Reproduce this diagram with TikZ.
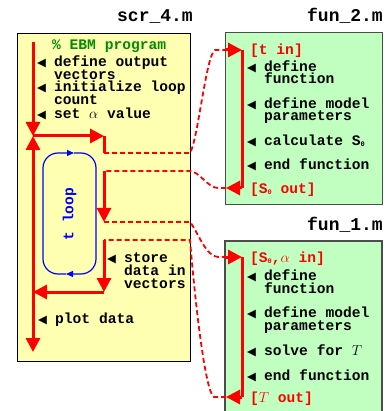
\documentclass[tikz,border=0pt]{standalone}
\usepackage{fontspec}
\setmonofont{Liberation Mono}
\newfontfamily\symfont{DejaVu Sans}
\usetikzlibrary{arrows.meta,positioning}

\definecolor{scrfill}{RGB}{255,255,178}
\definecolor{funfill}{RGB}{192,255,192}
\definecolor{ebmgreen}{RGB}{0,140,0}

% bullet triangle, hanging indent, small index
\newcommand{\tri}{\makebox[17pt][l]{\symfont\fontsize{11.5}{11.5}\selectfont ◀}}
\newcommand{\ind}{\hspace*{17pt}}
\newcommand{\idx}[1]{\raisebox{-1pt}{\fontsize{7}{7}\selectfont #1}}

\tikzset{
  code/.style={font=\ttfamily\bfseries\fontsize{14.6}{12.6}\selectfont,
    align=left, anchor=base west, inner sep=0pt},
  filename/.style={font=\ttfamily\bfseries\fontsize{18}{18}\selectfont,
    anchor=base east, inner sep=0pt},
  flow/.style={red, line width=3pt},
  flowarrow/.style={-{Triangle[length=14pt,width=14pt]}},
  link/.style={red, line width=1.8pt, dash pattern=on 5pt off 3pt},
  loopline/.style={blue, line width=1.2pt, rounded corners=15pt,
    -{Triangle[length=7pt,width=6pt]}}
}

\begin{document}
\begin{tikzpicture}[x=1pt,y=-1pt]
\useasboundingbox (0,0) rectangle (391,411);

% boxes
\node[draw, line width=1.2pt, fill=scrfill, anchor=north west,
  minimum width=173pt, minimum height=328pt] (scr) at (17,33) {};
\node[draw=black!70, line width=1.2pt, fill=funfill, anchor=north west,
  minimum width=157pt, minimum height=172pt] (fun2) at (225,32) {};
\fill[funfill] (225,241) rectangle (382,411);
\draw[black!70, line width=1.2pt] (225,411) |- (382,241) -- (382,411);

\node[filename] (scrname) at (193,22) {scr\_4.m};
\node[filename] (fun2name) at (383,22) {fun\_2.m};
\node[filename] (fun1name) at (383,230) {fun\_1.m};

% scr_4.m text (y = baseline of last line)
\node[code, ebmgreen] (ebm) at (52,50) {\% EBM program};
\foreach \yy/\txt [count=\i] in {80/{define output\\\ind vectors},
    105/{initialize loop\\\ind count}, 119/{set $\alpha$ value}}
  \node[code] (scritem\i) at (37,\yy) {\tri\txt};
\node[code] (store) at (107,288) {\tri store\\\ind data in\\\ind vectors};
\node[code] (plot) at (38,323) {\tri plot data};

% fun_2.m text
\node[code, red] (tin) at (250,55) {[t in]};
\foreach \yy/\txt [count=\i] in {84/{define\\\ind function},
    121/{define model\\\ind parameters}, 146/{calculate S\idx{0}},
    170/{end function}}
  \node[code] (funtwo\i) at (247,\yy) {\tri\txt};
\node[code, red] (sout) at (250,194) {[S\idx{0} out]};

% fun_1.m text
\node[code, red] (sin) at (250,262) {[S\idx{0},$\alpha$ in]};
\foreach \yy/\txt [count=\i] in {293/{define\\\ind function},
    330/{define model\\\ind parameters}, 355/{solve for $T$},
    380/{end function}}
  \node[code] (funone\i) at (247,\yy) {\tri\txt};
\node[code, red] (tout) at (250,402) {[$T$ out]};

% t loop
\draw[loopline] (66,274) -- (43,274) -- (43,153) -- (74,153);
\draw[loopline] (74,153) -- (96,153) -- (96,274) -- (66,274);
\node[code, anchor=center, rotate=90, blue] (tloop) at (69.5,214) {t loop};

% flow points
\coordinate (top) at (33,42);
\coordinate (j1) at (33,136);
\coordinate (a1) at (104,136);
\coordinate (a2) at (104,153);
\coordinate (e1) at (190,153);
\coordinate (b1) at (104,171);
\coordinate (e2) at (190,171);
\coordinate (b2) at (104,222);
\coordinate (e3) at (190,222);
\coordinate (c1) at (104,240);
\coordinate (e4) at (190,240);
\coordinate (c2) at (104,292);
\coordinate (j2) at (33,292);
\coordinate (bottom) at (33,352);
\coordinate (f2in) at (226,50);
\coordinate (f2top) at (242,50);
\coordinate (f2bot) at (242,188);
\coordinate (f2out) at (226,188);
\coordinate (f1in) at (226,257);
\coordinate (f1top) at (242,257);
\coordinate (f1bot) at (242,397);
\coordinate (f1out) at (226,397);

% main program
\draw[flow, flowarrow] (top) -- (j1);
\draw[flow, flowarrow] (j1) -- (a1);
\draw[flow] (a1) -- (a2);
\draw[link] (a2) -- (e1) .. controls (198,140) and (206,55) .. (215,50) -- (f2in);
\draw[flow, flowarrow] (f2in) -- (f2top);
\draw[flow] (f2top) -- (f2bot);
\draw[flow, flowarrow] (f2bot) -- (f2out);
\draw[link] (f2out) -- (218,188) .. controls (208,188) and (200,172) .. (e2) -- (b1);
\draw[flow, flowarrow] (b1) -- (b2);
\draw[link] (b2) -- (e3) .. controls (198,232) and (206,257) .. (218,257) -- (f1in);
\draw[flow, flowarrow] (f1in) -- (f1top);
\draw[flow] (f1top) -- (f1bot);
\draw[flow, flowarrow] (f1bot) -- (f1out);
\draw[link] (f1out) -- (214,397) .. controls (205,392) and (195,300) .. (e4) -- (c1);
\draw[flow, flowarrow] (c1) -- (c2);
\draw[flow, flowarrow] (c2) -- (j2);
\draw[flow, flowarrow] (j2) -- (j1);
\draw[flow, flowarrow] (j2) -- (bottom);
\end{tikzpicture}
\end{document}
